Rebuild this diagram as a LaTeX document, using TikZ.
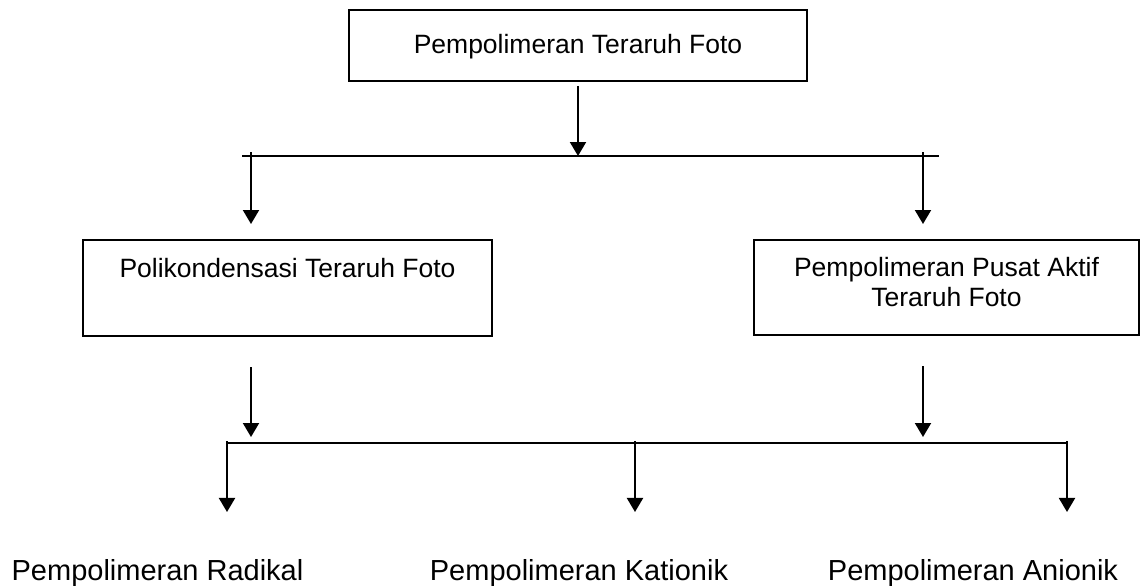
\documentclass[tikz,border=0pt]{standalone}
\usepackage{fontspec}
\setmainfont{Liberation Sans}
\usepackage{tikz}
\usetikzlibrary{arrows.meta}
\tikzset{%
  kotak/.style={
    draw,
    rectangle,
    inner sep=0pt,
    align=center,
    anchor=north,
    font=\fontsize{26.5}{30}\selectfont
  },
  jenis/.style={
    inner sep=0pt,
    anchor=base,
    font=\fontsize{29}{34}\selectfont
  },
}

\begin{document}
\begin{tikzpicture}[> = {Triangle[length=14pt, width=16pt]}, x=1pt, y=-1pt, line width=2pt]
\useasboundingbox (0,0) rectangle (1141,586);
    \node[kotak, minimum width=458pt, text height=44pt, text depth=27pt] (induk) at (578,9) {Pempolimeran Teraruh Foto};
    \node[kotak, minimum width=409pt, text height=37pt, text depth=59pt] (kondensasi) at (287.5,239) {Polikondensasi Teraruh Foto};
    \node[kotak, minimum width=385pt, text height=66pt, text depth=29pt] (pusat) at (946.5,239) {Pempolimeran Pusat Aktif\\Teraruh Foto};
    \node[jenis] (radikal) at (157.5,580) {Pempolimeran Radikal};
    \node[jenis] (kationik) at (579,580) {Pempolimeran Kationik};
    \node[jenis] (anionik) at (973,580) {Pempolimeran Anionik};

    \coordinate (rel_1_w) at (242,156);
    \coordinate (rel_1_e) at (939,156);
    \coordinate (rel_2_w) at (227,443);
    \coordinate (rel_2_e) at (1068,443);
    \coordinate (cab_1_0) at (251,152);
    \coordinate (cab_1_1) at (923,152);
    \coordinate (cab_2_0) at (227,441);
    \coordinate (cab_2_1) at (635,441);
    \coordinate (cab_2_2) at (1067,441);

   \draw (rel_1_w) -- (rel_1_e);
   \draw (rel_2_w) -- (rel_2_e);
   \draw[->, shorten <=4pt]  (induk.south) -- (induk.south |- rel_1_w);
   \draw[->, shorten >=15pt] (cab_1_0) -- (cab_1_0 |- kondensasi.north);
   \draw[->, shorten >=15pt] (cab_1_1) -- (cab_1_1 |- pusat.north);
   \draw[->, shorten <=30pt, shorten >=6pt] (cab_1_0 |- kondensasi.south) -- (cab_1_0 |- rel_2_w);
   \draw[->, shorten <=30pt, shorten >=6pt] (cab_1_1 |- pusat.south) -- (cab_1_1 |- rel_2_w);
   \draw[->, shorten >=46pt] (cab_2_0) -- (cab_2_0 |- radikal.north);
   \draw[->, shorten >=46pt] (cab_2_1) -- (cab_2_1 |- kationik.north);
   \draw[->, shorten >=46pt] (cab_2_2) -- (cab_2_2 |- anionik.north);
\end{tikzpicture}
\end{document}
